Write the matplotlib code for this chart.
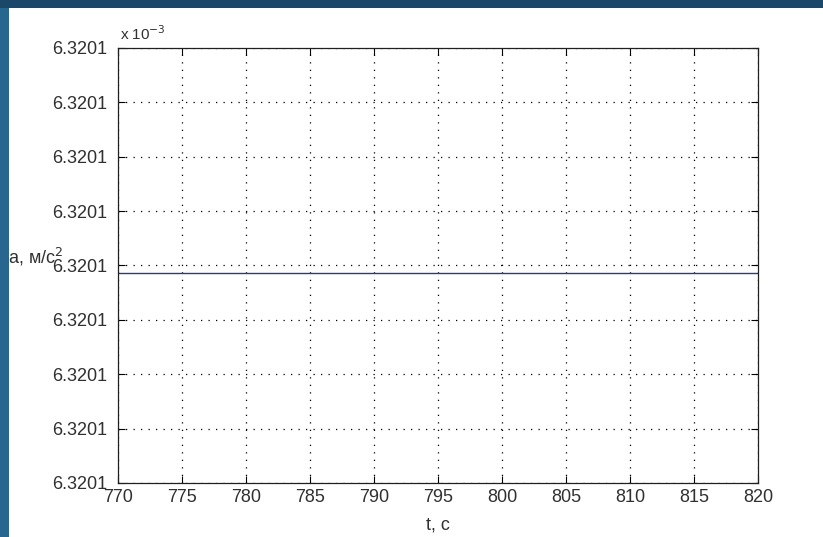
import numpy as np
import matplotlib.pyplot as plt
from matplotlib.patches import Rectangle
from matplotlib.ticker import FuncFormatter

# --- data ---
t = np.array([770.0, 820.0])                   # time, s
a = np.array([6.320099886e-3, 6.320099886e-3])  # acceleration, m/s^2 (constant)

x_ticks = np.arange(770, 821, 5)
y_ticks = 6.3200995e-3 + np.arange(9) * 1e-10

plt.rcParams['font.family'] = ['Liberation Sans', 'DejaVu Sans']
txt = '#303030'

fig = plt.figure(figsize=(8.23, 5.37), dpi=100)
fig.patch.set_facecolor('white')

# --- slide frame (blue strips) ---
fig.patches.append(Rectangle((0, 0), 9 / 823, 1, transform=fig.transFigure,
                             facecolor='#27668f', edgecolor='none', zorder=0))
fig.patches.append(Rectangle((0, 1 - 8 / 537), 1, 8 / 537, transform=fig.transFigure,
                             facecolor='#1b4868', edgecolor='none', zorder=0))

ax = fig.add_axes([118 / 823, 1 - 483 / 537, 640 / 823, 435 / 537])
ax.plot(t, a, color='#2b3a8a', linewidth=1.0)

ax.set_xlim(770, 820)
ax.set_ylim(y_ticks[0], y_ticks[-1])
ax.set_xticks(x_ticks)
ax.set_yticks(y_ticks)
ax.yaxis.set_major_formatter(FuncFormatter(lambda v, p: f"{v * 1e3:.4f}"))

ax.grid(True, linestyle=(0, (1, 5)), color='black', linewidth=0.9)
ax.tick_params(direction='in', length=5, top=True, right=True,
               labelsize=13, colors=txt)
ax.tick_params(axis='y', pad=8)
ax.tick_params(axis='x', pad=4)
ax.tick_params(axis='both', color='black')
for s in ax.spines.values():
    s.set_color('#202020')
    s.set_linewidth(0.9)

ax.text(0.003, 1.012, 'x 10$^{-3}$', transform=ax.transAxes,
        fontsize=11, color=txt, ha='left', va='bottom')
ax.text(-110 / 640, 0.52, 'a, м/с$^2$', transform=ax.transAxes,
        fontsize=13, color=txt, ha='left', va='center')
ax.set_xlabel('t, с', fontsize=13, color=txt, labelpad=8)

fig.savefig('out.png', dpi=100)
